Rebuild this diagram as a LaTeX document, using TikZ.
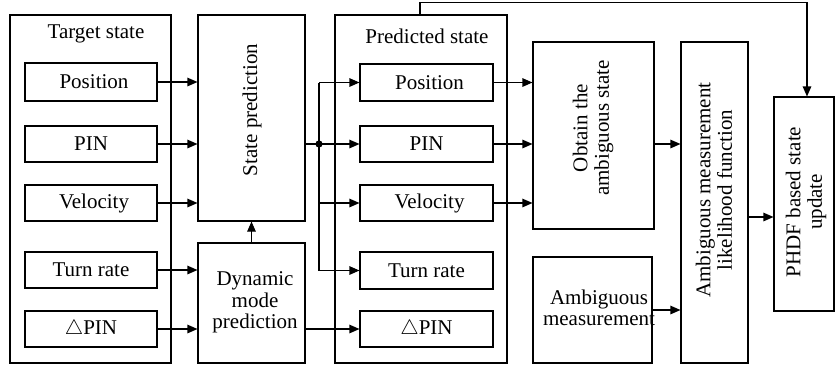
\documentclass[tikz,border=0pt]{standalone}
\usepackage{fontspec}
\setmainfont{Liberation Serif}
\usepackage{graphicx}
\usetikzlibrary{arrows.meta}
\begin{document}
\begin{tikzpicture}[x=1pt,y=-1pt,
  font=\fontsize{21}{21.5}\selectfont,
  box/.style={draw, line width=1.1pt, inner sep=0pt},
  lbox/.style={box, minimum width=132pt, minimum height=36pt},
  rbox/.style={box, minimum width=133pt, minimum height=36pt},
  arr/.style={line width=1.1pt, -{Triangle[length=10pt,width=8.5pt]}},
  ln/.style={line width=1.1pt},
  vtext/.style={rotate=90, align=center, inner sep=0pt}]
\useasboundingbox (0,0) rectangle (835,368);

% left group
\node[box, minimum width=161pt, minimum height=348pt] (ts) at (90.5,189) {};
\node (tst) at (96,34) {Target state};
\node[lbox, minimum height=38pt] (p1) at (91,82) {\hspace*{6pt}Position};
\node[lbox] (n1) at (91,144) {PIN};
\node[lbox] (v1) at (91,203) {\hspace*{6pt}Velocity};
\node[lbox] (t1) at (91,270) {Turn rate};
\node[lbox] (d1) at (91,329) {$\triangle$PIN};

% prediction blocks
\node[box, minimum width=107pt, minimum height=206pt] (sp) at (251.5,118) {};
\node[vtext] (spt) at (252,110) {State prediction};
\node[box, minimum width=107pt, minimum height=120pt] (dm) at (251.5,303) {};
\node[align=center, inner sep=0pt] (dmt) at (255,302.5) {Dynamic\\mode\\prediction};

% predicted state group
\node[box, minimum width=172pt, minimum height=348pt] (ps) at (421,189) {};
\node (pst) at (427,36) {Predicted state};
\node[rbox, minimum height=37pt] (p2) at (426.5,82.5) {\hspace*{6pt}Position};
\node[rbox] (n2) at (426.5,144) {PIN};
\node[rbox] (v2) at (426.5,203) {\hspace*{6pt}Velocity};
\node[rbox, minimum height=37pt] (t2) at (426.5,270.5) {Turn rate};
\node[rbox] (d2) at (426.5,329) {$\triangle$PIN};

% right blocks
\node[box, minimum width=121pt, minimum height=187pt] (ob) at (593.5,135.5) {};
\node[vtext] (obt) at (593,128) {Obtain the\\ambiguous state};
\node[box, minimum width=119pt, minimum height=106pt] (am) at (592.5,310) {};
\node[align=center, inner sep=0pt] (amt) at (599,308) {Ambiguous\\measurement};
\node[box, minimum width=67pt, minimum height=321pt] (lf) at (714.5,202.5) {};
\node[vtext] (lft) at (714,190) {Ambiguous measurement\\likelihood function};
\node[box, minimum width=60pt, minimum height=214pt] (ph) at (804,204) {};
\node[vtext] (pht) at (806,202) {PHDF based state\\update};

% arrows left -> state prediction / dynamic mode
\draw[arr] (p1.east) -- (p1.east -| sp.west);
\draw[arr] (n1.east) -- (n1.east -| sp.west);
\draw[arr] (v1.east) -- (v1.east -| sp.west);
\draw[arr] (t1.east) -- (t1.east -| dm.west);
\draw[arr] (d1.east) -- (d1.east -| dm.west);
\draw[arr] (dm.north) -- (sp.south);

% junction and distribution
\coordinate (j) at (319,144);
\draw[ln] (n1.east -| sp.east) -- (j);
\draw[ln] (j |- p2.west) -- (j |- t2.west);
\fill (j) circle (3.6pt);
\draw[arr] (j |- p2.west) -- (p2.west);
\draw[arr] (j) -- (n2.west);
\draw[arr] (j |- v2.west) -- (v2.west);
\draw[arr] (j |- t2.west) -- (t2.west);
\draw[arr] (d2.west -| dm.east) -- (d2.west);

% predicted -> obtain
\draw[arr] (p2.east) -- (p2.east -| ob.west);
\draw[arr] (n2.east) -- (n2.east -| ob.west);
\draw[arr] (v2.east) -- (v2.east -| ob.west);

% to likelihood
\draw[arr] (n2.east -| ob.east) -- (n2.east -| lf.west);
\draw[arr] (am.east) -- (am.east -| lf.west);

% likelihood -> PHDF
\coordinate (lfy) at (0,217);
\draw[arr] (lf.east |- lfy) -- (ph.west |- lfy);

% top feedback line
\coordinate (tp) at (420,2.5);
\coordinate (tq) at (807,2.5);
\draw[arr] (tp |- ps.north) -- (tp) -- (tq) -- (tq |- ph.north);
\end{tikzpicture}
\end{document}
